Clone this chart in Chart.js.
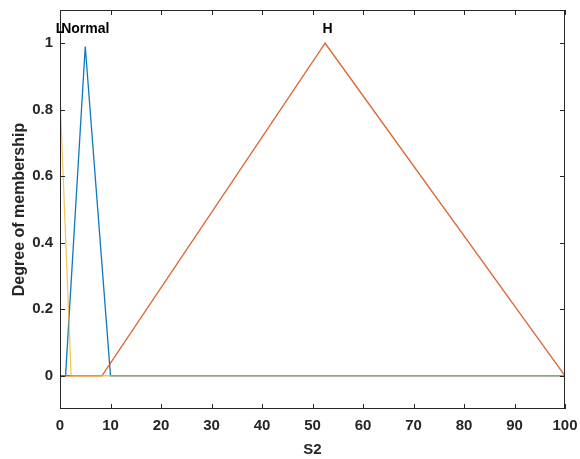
<!DOCTYPE html>
<html>
<head>
<meta charset="utf-8">
<script src="https://cdn.jsdelivr.net/npm/chart.js@4/dist/chart.umd.min.js"></script>
<style>
  html, body { margin: 0; padding: 0; background: #fff; }
  #wrap { width: 580px; height: 459px; }
</style>
</head>
<body>
<div id="wrap"><canvas id="mf-chart"></canvas></div>
<script>
// membership functions of input S2
var normalX = [0, 1.1, 5, 10, 100];
var normalY = [0, 0, 0.99, 0, 0];
var highX = [0, 8.3, 52.5, 100];
var highY = [0, 0, 1, 0];
var lowX = [0, 2.2, 100];
var lowY = [0.84, 0, 0];

var mfNames = ['L', 'Normal', 'H'];
var mfLabelX = [0, 5, 53];

var xTicks = [0, 10, 20, 30, 40, 50, 60, 70, 80, 90, 100];
var yTicks = [0, 0.2, 0.4, 0.6, 0.8, 1];

var axisColor = '#262626';
var fontFamily = '"Liberation Sans", Arial, sans-serif';
var tickFont = { family: fontFamily, size: 15, weight: 'bold' };

function pts(xs, ys) {
    return xs.map(function (x, i) { return { x: x, y: ys[i] }; });
}

// box around the axes, inward ticks and the mf names
var matlabAxes = {
    id: 'matlabAxes',
    afterDatasetsDraw: function (chart) {
        var ctx = chart.ctx;
        var a = chart.chartArea;
        var xs = chart.scales.x, ys = chart.scales.y;
        ctx.save();
        ctx.strokeStyle = axisColor;
        ctx.lineWidth = 1;
        ctx.strokeRect(a.left + 0.5, a.top + 0.5, a.right - a.left - 1, a.bottom - a.top - 1);
        ctx.beginPath();
        xTicks.forEach(function (t) {
            var px = Math.round(xs.getPixelForValue(t)) + 0.5;
            ctx.moveTo(px, a.bottom); ctx.lineTo(px, a.bottom - 5);
            ctx.moveTo(px, a.top); ctx.lineTo(px, a.top + 5);
        });
        yTicks.forEach(function (t) {
            var py = Math.round(ys.getPixelForValue(t)) + 0.5;
            ctx.moveTo(a.left, py); ctx.lineTo(a.left + 5, py);
            ctx.moveTo(a.right, py); ctx.lineTo(a.right - 5, py);
        });
        ctx.stroke();

        ctx.fillStyle = '#000';
        ctx.font = 'bold 14px ' + fontFamily;
        ctx.textAlign = 'center';
        ctx.textBaseline = 'alphabetic';
        mfNames.forEach(function (name, i) {
            ctx.fillText(name, xs.getPixelForValue(mfLabelX[i]), ys.getPixelForValue(1.03));
        });
        ctx.restore();
    }
};

var ctx = document.getElementById('mf-chart');
var chart = new Chart(ctx, {
    type: 'line',
    data: {
        datasets: [{
            label: 'Normal',
            data: pts(normalX, normalY),
            borderColor: 'rgba(0, 114, 189, 0.95)',
            borderWidth: 1.3,
            order: 3
        }, {
            label: 'H',
            data: pts(highX, highY),
            borderColor: 'rgba(217, 83, 25, 0.9)',
            borderWidth: 1.3,
            order: 2
        }, {
            label: 'L',
            data: pts(lowX, lowY),
            borderColor: 'rgba(237, 177, 32, 0.7)',
            borderWidth: 1.3,
            order: 1
        }]
    },
    options: {
        responsive: true,
        maintainAspectRatio: false,
        animation: false,
        events: [],
        elements: { point: { radius: 0 }, line: { tension: 0 } },
        layout: { padding: { top: 10, right: 15, left: 0, bottom: 0 } },
        plugins: { legend: { display: false }, tooltip: { enabled: false } },
        scales: {
            x: {
                type: 'linear',
                min: 0,
                max: 100,
                afterBuildTicks: function (scale) {
                    scale.ticks = xTicks.map(function (v) { return { value: v }; });
                },
                afterFit: function (scale) {
                    scale.height = 50;
                    scale.paddingLeft = 0;
                    scale.paddingRight = 0;
                },
                grid: { display: false, drawTicks: false },
                border: { display: false },
                ticks: { color: axisColor, font: tickFont, padding: 8, maxRotation: 0,
                    callback: function (v) { return String(v); } },
                title: { display: true, text: 'S2', color: axisColor, font: tickFont, padding: { top: 0, bottom: 0 } }
            },
            y: {
                type: 'linear',
                min: -0.1,
                max: 1.1,
                afterBuildTicks: function (scale) {
                    scale.ticks = yTicks.map(function (v) { return { value: v }; });
                },
                afterFit: function (scale) {
                    scale.width = 60;
                    scale.paddingTop = 0;
                    scale.paddingBottom = 0;
                },
                grid: { display: false, drawTicks: false },
                border: { display: false },
                ticks: { color: axisColor, font: tickFont, padding: 7,
                    callback: function (v) { return String(v); } },
                title: { display: true, text: 'Degree of membership', color: axisColor,
                    font: { family: fontFamily, size: 16, weight: 'bold' }, padding: { top: 10, bottom: 0 } }
            }
        }
    },
    plugins: [matlabAxes]
});
</script>
</body>
</html>
